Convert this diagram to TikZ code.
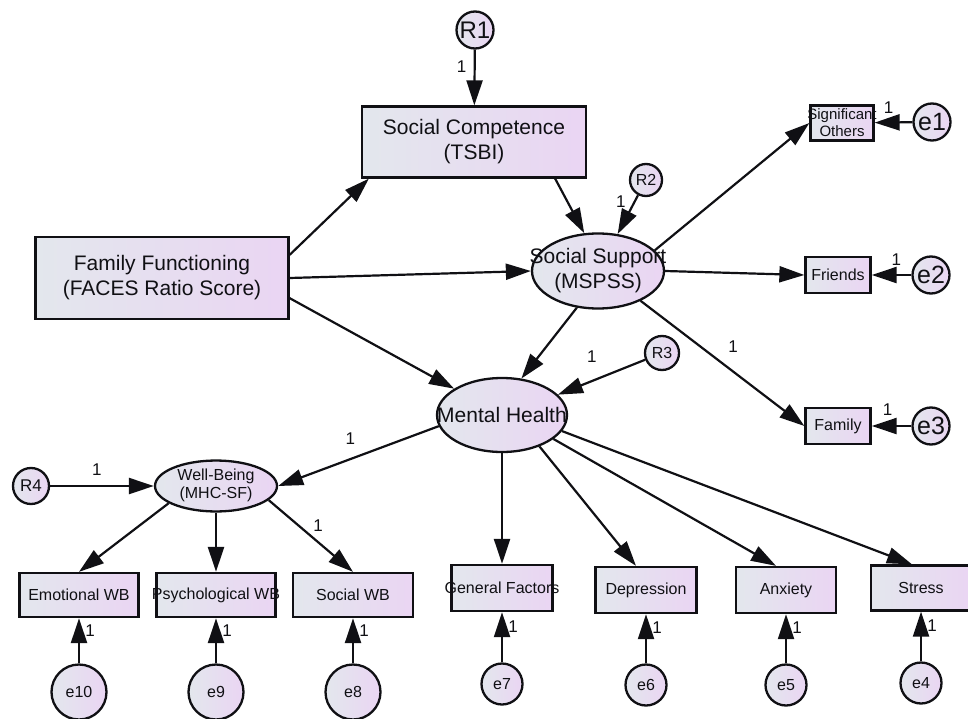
\documentclass[tikz,border=0pt]{standalone}
\usepackage{fontspec}
\setmainfont{Liberation Sans}
\usetikzlibrary{arrows.meta,shapes.geometric}
\definecolor{fillL}{RGB}{227,231,237}
\definecolor{fillR}{RGB}{234,213,243}
\definecolor{ink}{RGB}{16,16,20}
% text that may run over the border of its shape
\newcommand{\runover}[1]{\makebox[0pt]{#1}}
\newcommand{\runovertwo}[2]{\makebox[0pt]{\begin{tabular}{@{}c@{}}#1\\#2\end{tabular}}}
\begin{document}
\begin{tikzpicture}[x=1pt,y=-1pt]
	\tikzstyle{obs} = [draw=ink, line width=2.3pt, rectangle, left color=fillL, right color=fillR, inner sep=0pt, text=ink, align=center]
	\tikzstyle{lat} = [draw=ink, line width=2.3pt, ellipse, left color=fillL, right color=fillR, inner sep=0pt, text=ink]
	\tikzstyle{err} = [draw=ink, line width=2.3pt, circle, left color=fillL, right color=fillR, inner sep=0pt, text=ink]
	\tikzstyle{arr} = [draw=ink, line width=2.2pt, -{Triangle[length=25pt,width=16pt]}]
	\tikzstyle{one} = [font=\fontsize{17}{17}\selectfont, text=ink, inner sep=0pt]
	\tikzstyle{big} = [font=\fontsize{21}{25}\selectfont]
	\tikzstyle{small} = [font=\fontsize{16}{18}\selectfont]
	\useasboundingbox (0,0) rectangle (968,719);

	% constructs
	\node[obs, big, minimum width=253pt, minimum height=82pt] (ff) at (162,278) {Family Functioning\\(FACES Ratio Score)};
	\node[obs, big, minimum width=224pt, minimum height=71pt] (sc) at (474,142) {Social Competence\\(TSBI)};
	\node[lat, big, minimum width=132pt, minimum height=75pt] (ss) at (598,271) {\runovertwo{Social Support}{(MSPSS)}};
	\node[lat, big, minimum width=130pt, minimum height=74pt] (mh) at (502,415) {\runover{Mental Health}};
	\node[lat, font=\fontsize{16}{18}\selectfont, minimum width=122pt, minimum height=48pt] (wb) at (216,486) {\runovertwo{Well-Being}{(MHC-SF)}};

	% indicators
	\node[obs, font=\fontsize{15}{17}\selectfont, minimum width=63pt, minimum height=35pt] (so) at (842,123) {\runover{Significant}\\Others};
	\node[obs, small, minimum width=65pt, minimum height=36pt] (fr) at (838,275) {Friends};
	\node[obs, small, minimum width=65pt, minimum height=36pt] (fa) at (838,426) {Family};
	\node[obs, small, minimum width=119pt, minimum height=44pt] (ewb) at (79,595) {Emotional WB};
	\node[obs, small, minimum width=119pt, minimum height=44pt] (pwb) at (216,595) {\runover{Psychological WB}};
	\node[obs, small, minimum width=120pt, minimum height=44pt] (swb) at (353,595) {Social WB};
	\node[obs, small, minimum width=101pt, minimum height=46pt] (gf) at (502,588) {\runover{General Factors}};
	\node[obs, small, minimum width=101pt, minimum height=46pt] (dep) at (646,590) {Depression};
	\node[obs, small, minimum width=100pt, minimum height=46pt] (anx) at (786,590) {Anxiety};
	\node[obs, small, minimum width=100pt, minimum height=45pt] (str) at (921,588) {Stress};

	% residuals and errors
	\node[err, font=\fontsize{24}{24}\selectfont, minimum size=37pt] (r1) at (475,30) {R1};
	\node[err, small, minimum size=32pt] (r2) at (646,180) {R2};
	\node[err, small, minimum size=34pt] (r3) at (662,353) {R3};
	\node[err, font=\fontsize{17}{17}\selectfont, minimum size=36pt] (r4) at (31,486) {R4};
	\node[err, font=\fontsize{25}{25}\selectfont, minimum size=37pt] (e1) at (932,122) {e1};
	\node[err, font=\fontsize{25}{25}\selectfont, minimum size=37pt] (e2) at (931,275) {e2};
	\node[err, font=\fontsize{25}{25}\selectfont, minimum size=37pt] (e3) at (931,426) {e3};
	\node[err, small, minimum size=55pt] (e10) at (79,692) {e10};
	\node[err, small, minimum size=55pt] (e9) at (216,692) {e9};
	\node[err, small, minimum size=55pt] (e8) at (353,692) {e8};
	\node[err, small, minimum size=41pt] (e7) at (502,684) {e7};
	\node[err, small, minimum size=41pt] (e6) at (646,685) {e6};
	\node[err, small, minimum size=41pt] (e5) at (786,685) {e5};
	\node[err, small, minimum size=41pt] (e4) at (921,683) {e4};

	% structural paths
	\draw[arr] (r1) -- node[one, pos=.3, xshift=-13pt] {1} (sc);
	\draw[arr] ([yshift=-19pt]ff.north east) -- ([xshift=8pt]sc.south west);
	\draw[arr] (ff.east) -- (ss.west);
	\draw[arr] ([yshift=22pt]ff.south east) -- (mh);
	\draw[arr] ([xshift=-32pt]sc.south east) -- (ss.110);
	\draw[arr] (r2) -- node[one, pos=.16, xshift=-14pt] {1} (ss.62);
	\draw[arr] (ss.240) -- (mh.62);
	\draw[arr] (r3) -- node[one, pos=.61, yshift=24pt] {1} (mh.20);

	% measurement paths
	\draw[arr] (ss.20) -- (so.west);
	\draw[arr] (ss.east) -- (fr.west);
	\draw[arr] (ss.-35) -- node[one, pos=.565, yshift=25pt] {1} (fa.west);
	\draw[arr] (mh.190) -- node[one, pos=.55, yshift=20pt] {1} (wb.east);
	\draw[arr] (r4) -- node[one, pos=.45, yshift=16pt] {1} (wb.west);
	\draw[arr] (wb.200) -- (ewb.north);
	\draw[arr] (wb.south) -- (pwb.north);
	\draw[arr] (wb.-15) -- node[one, pos=.35, xshift=20pt] {1} (swb.north);
	\draw[arr] (mh.south) -- (gf.north);
	\draw[arr] (mh.-40) -- ([xshift=-10pt]dep.north);
	\draw[arr] (mh.-25) -- ([xshift=-10pt]anx.north);
	\draw[arr] (mh.-15) -- ([xshift=-9pt]str.north);

	% error paths
	\draw[arr] (e1) -- node[one, pos=.63, yshift=15pt] {1} (so);
	\draw[arr] (e2) -- node[one, pos=.38, yshift=15pt] {1} (fr);
	\draw[arr] (e3) -- node[one, pos=.6, yshift=16pt] {1} (fa);
	\draw[arr] (e10) -- node[one, pos=.72, xshift=11pt] {1} (ewb);
	\draw[arr] (e9) -- node[one, pos=.72, xshift=11pt] {1} (pwb);
	\draw[arr] (e8) -- node[one, pos=.72, xshift=11pt] {1} (swb);
	\draw[arr] (e7) -- node[one, pos=.72, xshift=11pt] {1} (gf);
	\draw[arr] (e6) -- node[one, pos=.72, xshift=11pt] {1} (dep);
	\draw[arr] (e5) -- node[one, pos=.72, xshift=11pt] {1} (anx);
	\draw[arr] (e4) -- node[one, pos=.72, xshift=11pt] {1} (str);
\end{tikzpicture}
\end{document}
